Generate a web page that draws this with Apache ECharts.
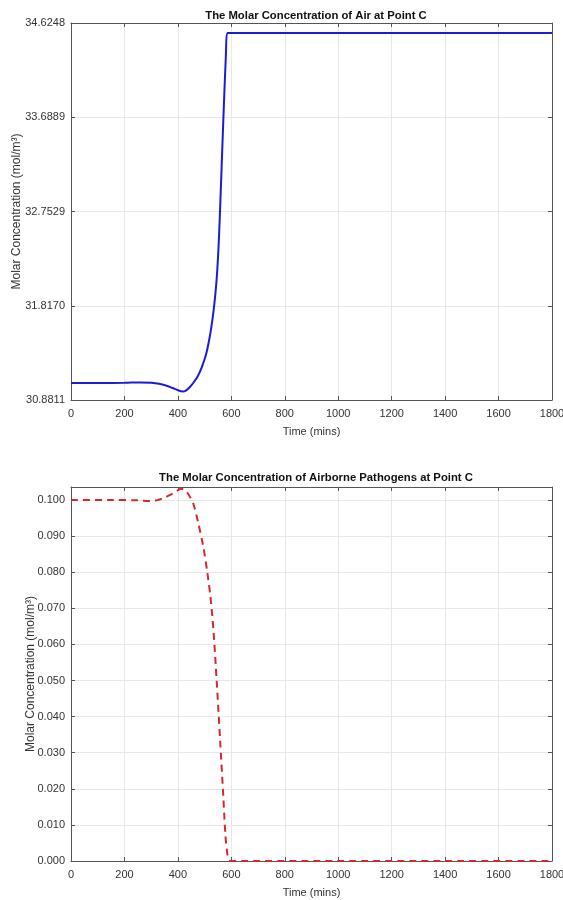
<!DOCTYPE html>
<html>
<head>
<meta charset="utf-8">
<title>Molar Concentration at Point C</title>
<script src="https://cdn.jsdelivr.net/npm/echarts@6/dist/echarts.min.js"></script>
<style>
  html, body { margin: 0; padding: 0; background: #ffffff; }
  #chart { width: 563px; height: 900px; }
</style>
</head>
<body>
<div id="chart"></div>
<script>
// Time samples (mins) and concentration of air at point C (mol/m^3)
const airTime = [0, 100, 200, 260, 300, 330, 355, 380, 400, 418, 430, 445, 460, 475, 490, 505, 515, 525, 535, 545, 553, 561, 570, 580, 585, 600, 1000, 1400, 1800];
const airConc = [31.05, 31.05, 31.052, 31.056, 31.052, 31.042, 31.025, 31.0, 30.978, 30.965, 30.975, 31.01, 31.06, 31.12, 31.21, 31.33, 31.45, 31.6, 31.8, 32.08, 32.45, 33.0, 33.66, 34.33, 34.525, 34.525, 34.525, 34.525, 34.525];

// Time samples (mins) and concentration of airborne pathogens at point C (mol/m^3)
const pathTime = [0, 150, 250, 290, 320, 345, 365, 383, 400, 412, 425, 440, 458, 475, 495, 510, 522, 533, 545, 558, 570, 578, 585, 592, 600, 1000, 1400, 1800];
const pathConc = [0.1, 0.1, 0.0999, 0.0997, 0.0999, 0.1005, 0.1012, 0.1019, 0.1027, 0.1031, 0.1028, 0.1015, 0.0989, 0.094, 0.0871, 0.080, 0.073, 0.064, 0.0501, 0.0335, 0.0178, 0.007, 0.002, 0.0003, 0, 0, 0, 0];

// Axis ticks
const timeTicks = [0, 200, 400, 600, 800, 1000, 1200, 1400, 1600, 1800];
const airTicks = [30.8811, 31.8170, 32.7529, 33.6889, 34.6248];
const pathTicks = [0.000, 0.010, 0.020, 0.030, 0.040, 0.050, 0.060, 0.070, 0.080, 0.090, 0.100];

const titles = ['The Molar Concentration of Air at Point C', 'The Molar Concentration of Airborne Pathogens at Point C'];
const xName = 'Time (mins)';
const yName = 'Molar Concentration (mol/m\u00B3)';

const FONT = 'Liberation Sans, Arial, Helvetica, sans-serif';
const AXIS_COLOR = '#555555';
const LABEL_COLOR = '#333333';
const GRID_COLOR = '#e8e8e8';
const TICK_FONT = 11;

const pair = (xs, ys) => xs.map((x, i) => [x, ys[i]]);

function xAxisPair(gridIndex) {
  const base = {
    type: 'value', gridIndex, min: 0, max: 1800, interval: 200,
    axisLine: { show: true, onZero: false, lineStyle: { color: AXIS_COLOR, width: 1 } },
    axisTick: { show: true, inside: true, length: 4, lineStyle: { color: AXIS_COLOR } },
  };
  return [
    Object.assign({}, base, {
      position: 'bottom',
      name: xName, nameLocation: 'middle', nameGap: 26, nameMoveOverlap: false,
      nameTextStyle: { fontFamily: FONT, fontSize: 11, color: LABEL_COLOR },
      axisLabel: { fontFamily: FONT, fontSize: TICK_FONT, color: LABEL_COLOR, margin: 8,
        customValues: timeTicks, formatter: v => String(v) },
      splitLine: { show: true, lineStyle: { color: GRID_COLOR, width: 1 } },
    }),
    Object.assign({}, base, {
      position: 'top',
      axisLabel: { show: false },
      splitLine: { show: false },
    }),
  ];
}

function yAxisPair(gridIndex, min, max, ticks, digits, nameGap) {
  const base = {
    type: 'value', gridIndex, min, max,
    axisLine: { show: true, onZero: false, lineStyle: { color: AXIS_COLOR, width: 1 } },
    axisTick: { show: true, inside: true, length: 4, customValues: ticks, lineStyle: { color: AXIS_COLOR } },
  };
  return [
    Object.assign({}, base, {
      position: 'left',
      name: yName, nameLocation: 'middle', nameGap, nameMoveOverlap: false,
      nameTextStyle: { fontFamily: FONT, fontSize: 12, color: LABEL_COLOR },
      axisLabel: { fontFamily: FONT, fontSize: TICK_FONT, color: LABEL_COLOR, margin: 6,
        customValues: ticks, formatter: v => v.toFixed(digits) },
      splitLine: { show: true, lineStyle: { color: GRID_COLOR, width: 1 } },
    }),
    Object.assign({}, base, {
      position: 'right',
      axisLabel: { show: false },
      splitLine: { show: false },
    }),
  ];
}

const chart = echarts.init(document.getElementById('chart'), null, { renderer: 'canvas' });

chart.setOption({
  backgroundColor: '#ffffff',
  animation: false,
  title: [
    { text: titles[0], left: 311, top: 5, textAlign: 'center',
      textStyle: { fontFamily: FONT, fontSize: 11.3, fontWeight: 'bold', color: '#111111' } },
    { text: titles[1], left: 311, top: 467, textAlign: 'center',
      textStyle: { fontFamily: FONT, fontSize: 11.3, fontWeight: 'bold', color: '#111111' } },
  ],
  grid: [
    { left: 71, top: 23, width: 481, height: 377, show: false, outerBoundsMode: 'none', containLabel: false },
    { left: 71, top: 487, width: 481, height: 374, show: false, outerBoundsMode: 'none', containLabel: false },
  ],
  xAxis: [].concat(xAxisPair(0), xAxisPair(1)),
  yAxis: [].concat(
    yAxisPair(0, 30.8811, 34.6248, airTicks, 4, 48),
    yAxisPair(1, 0, 0.1036, pathTicks, 3, 34)
  ),
  series: [
    {
      type: 'line', xAxisIndex: 0, yAxisIndex: 0,
      data: pair(airTime, airConc),
      smooth: 0.3, showSymbol: false,
      lineStyle: { color: '#1c1cd8', width: 2 },
    },
    {
      type: 'line', xAxisIndex: 2, yAxisIndex: 2,
      data: pair(pathTime, pathConc),
      smooth: 0.3, showSymbol: false,
      lineStyle: { color: '#d42a2a', width: 2, type: [7, 5] },
    },
  ],
});
</script>
</body>
</html>
